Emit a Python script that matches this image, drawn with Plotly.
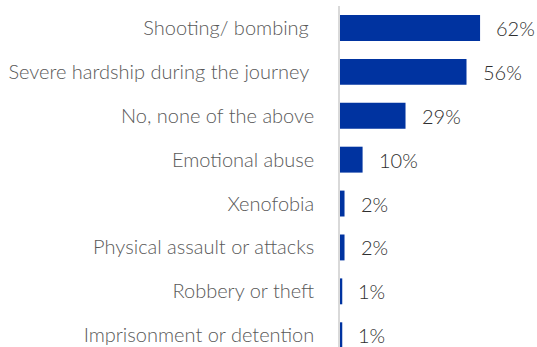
import plotly.graph_objects as go

# Survey responses, top to bottom
categories = [
    "Shooting/ bombing\u00a0",
    "Severe hardship during the journey\u00a0",
    "No, none of the above",
    "Emotional abuse",
    "Xenofobia",
    "Physical assault or attacks",
    "Robbery or theft",
    "Imprisonment or detention",
]
values = [62, 56, 29, 10, 2, 2, 1, 1]
value_labels = ["62%", "56%", "29%", "10%", "2%", "2%", "1%", "1%"]

BAR_COLOR = "#0033A0"
LABEL_COLOR = "#595959"
VALUE_COLOR = "#2E2E2E"

ROW_PX = 43.9   # vertical pitch of one category row
TOP_PX = 6

fig = go.Figure(
    go.Bar(
        x=values,
        y=categories,
        orientation="h",
        marker=dict(color=BAR_COLOR, line=dict(width=0)),
        width=0.59,
        hoverinfo="skip",
    )
)

# Percentage labels placed just past each bar end
for cat, val, lab in zip(categories, values, value_labels):
    fig.add_annotation(
        x=val, y=cat, text=lab, xref="x", yref="y",
        xanchor="left", yanchor="middle", xshift=14, showarrow=False,
        font=dict(family="Lato", size=20, weight=300, color=VALUE_COLOR),
    )

plot_h = 347 - TOP_PX
fig.update_layout(
    width=537, height=347,
    margin=dict(l=340, r=0, t=TOP_PX, b=0),
    paper_bgcolor="white", plot_bgcolor="white",
    showlegend=False,
    xaxis=dict(range=[0, 87.2], visible=False, fixedrange=True),
    yaxis=dict(
        type="category",
        categoryorder="array", categoryarray=categories,
        range=[-0.5 + plot_h / ROW_PX, -0.5],
        showgrid=False, zeroline=False,
        showline=True, linecolor="#D9D9D9", linewidth=1.5,
        ticks="", ticklabelstandoff=20,
        tickfont=dict(family="Lato", size=20, weight=300, color=LABEL_COLOR),
        automargin=False,
    ),
)

fig.write_html("out.html")
